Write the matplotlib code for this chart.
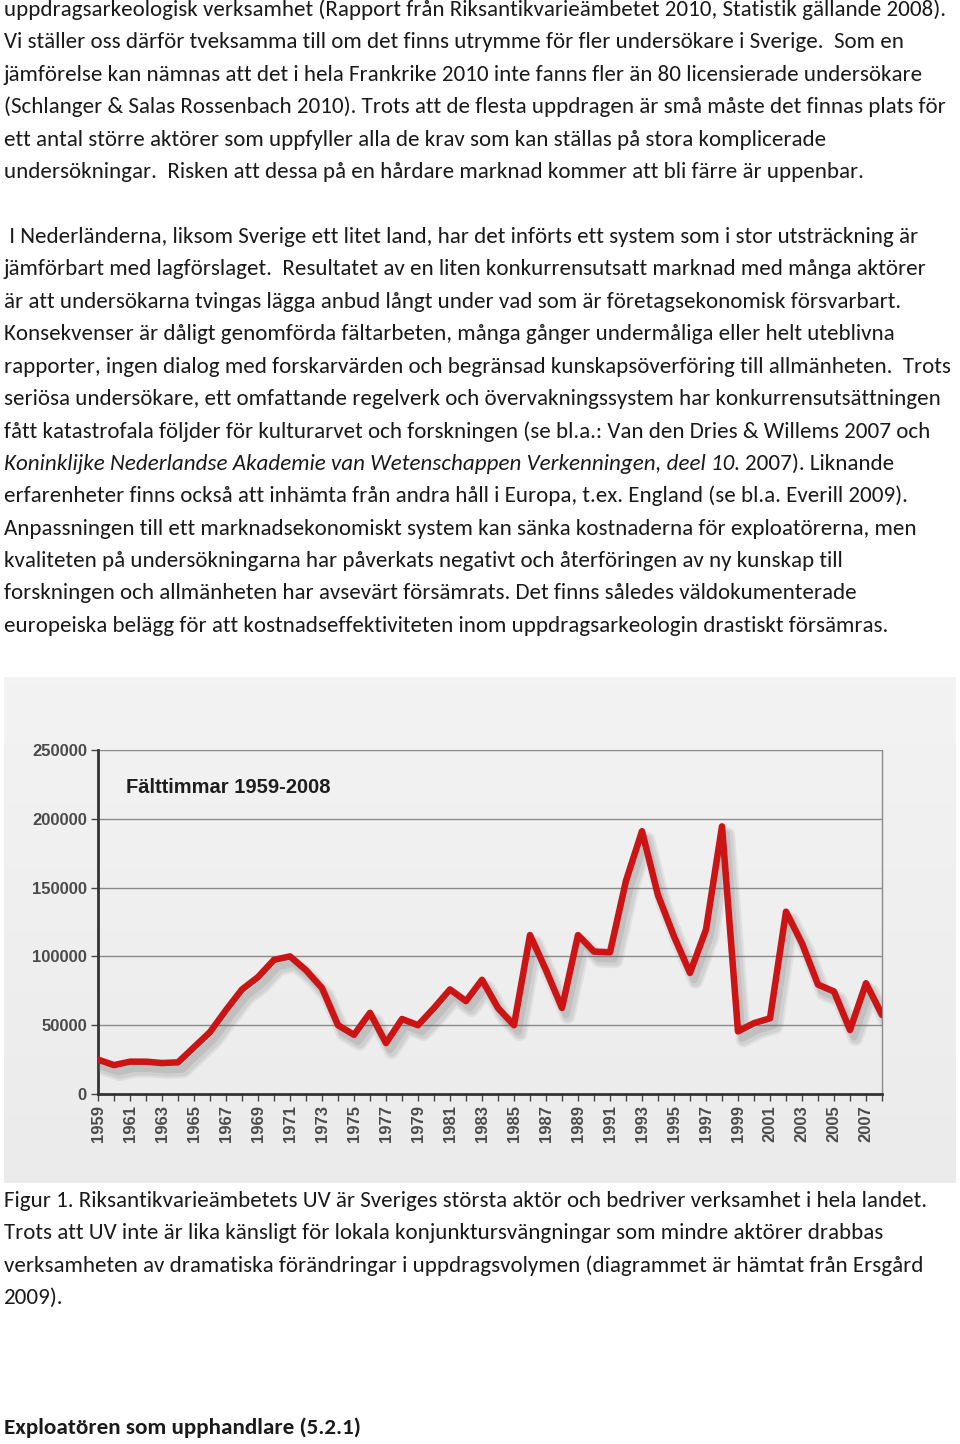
import numpy as np
import matplotlib
matplotlib.use("Agg")
import matplotlib.pyplot as plt
import matplotlib.patheffects as pe
from matplotlib import font_manager

# Field hours per year
years = list(range(1959, 2009))
hours = [25000, 21000, 23500, 23500, 22500, 23000, 34000, 45000, 61000, 76000,
         85000, 97500, 100000, 90000, 77000, 50000, 43000, 59000, 37000, 54500,
         50000, 62500, 76000, 67500, 83000, 62500, 50000, 115500, 90000, 62500,
         115500, 103500, 103000, 155000, 191000, 144500, 114500, 88000, 119500, 194500,
         45500, 51500, 55000, 132500, 109500, 79500, 74500, 46500, 80500, 57500]
year_labels = [str(y) if y % 2 == 1 else "" for y in years]
y_ticks = [0, 50000, 100000, 150000, 200000, 250000]
chart_title = "Fälttimmar 1959-2008"

para1 = [
    "uppdragsarkeologisk verksamhet (Rapport från Riksantikvarieämbetet 2010, Statistik gällande 2008).",
    "Vi ställer oss därför tveksamma till om det finns utrymme för fler undersökare i Sverige.  Som en",
    "jämförelse kan nämnas att det i hela Frankrike 2010 inte fanns fler än 80 licensierade undersökare",
    "(Schlanger & Salas Rossenbach 2010). Trots att de flesta uppdragen är små måste det finnas plats för",
    "ett antal större aktörer som uppfyller alla de krav som kan ställas på stora komplicerade",
    "undersökningar.  Risken att dessa på en hårdare marknad kommer att bli färre är uppenbar.",
]
para2 = [
    " I Nederländerna, liksom Sverige ett litet land, har det införts ett system som i stor utsträckning är",
    "jämförbart med lagförslaget.  Resultatet av en liten konkurrensutsatt marknad med många aktörer",
    "är att undersökarna tvingas lägga anbud långt under vad som är företagsekonomisk försvarbart.",
    "Konsekvenser är dåligt genomförda fältarbeten, många gånger undermåliga eller helt uteblivna",
    "rapporter, ingen dialog med forskarvärden och begränsad kunskapsöverföring till allmänheten.  Trots",
    "seriösa undersökare, ett omfattande regelverk och övervakningssystem har konkurrensutsättningen",
    "fått katastrofala följder för kulturarvet och forskningen (se bl.a.: Van den Dries & Willems 2007 och",
    None,
    "erfarenheter finns också att inhämta från andra håll i Europa, t.ex. England (se bl.a. Everill 2009).",
    "Anpassningen till ett marknadsekonomiskt system kan sänka kostnaderna för exploatörerna, men",
    "kvaliteten på undersökningarna har påverkats negativt och återföringen av ny kunskap till",
    "forskningen och allmänheten har avsevärt försämrats. Det finns således väldokumenterade",
    "europeiska belägg för att kostnadseffektiviteten inom uppdragsarkeologin drastiskt försämras.",
]
italic_part = "Koninklijke Nederlandse Akademie van Wetenschappen Verkenningen, deel 10"
after_italic = ". 2007). Liknande"
caption = [
    "Figur 1. Riksantikvarieämbetets UV är Sveriges största aktör och bedriver verksamhet i hela landet.",
    "Trots att UV inte är lika känsligt för lokala konjunktursvängningar som mindre aktörer drabbas",
    "verksamheten av dramatiska förändringar i uppdragsvolymen (diagrammet är hämtat från Ersgård",
    "2009).",
]
heading = "Exploatören som upphandlare (5.2.1)"

W, H = 960, 1444
fig = plt.figure(figsize=(W / 100, H / 100), dpi=100)
fig.patch.set_facecolor("white")

names = {f.name for f in font_manager.fontManager.ttflist}
body_font = "Carlito" if "Carlito" in names else "Lato"
txt_color = "#1a1a1a"

renderer = fig.canvas.get_renderer()

# fit body font size so the first line spans the same width as in the page
probe = fig.text(0, 0, para1[0], fontsize=14, family=body_font)
w14 = probe.get_window_extent(renderer).width
probe.remove()
fs = 14 * 946 / w14


def px(x, y):
    return x / W, 1 - y / H


def line(x, y, s, **kw):
    return fig.text(*px(x, y), s, fontsize=kw.pop("fontsize", fs), family=body_font,
                    color=txt_color, va="center", ha="left", **kw)


ys1 = 10 + 32.4 * np.arange(len(para1))
for y, s in zip(ys1, para1):
    line(4, y, s)

ys2 = 237 + 32.4 * np.arange(len(para2))
for y, s in zip(ys2, para2):
    if s is None:
        t = line(4, y, italic_part, style="italic")
        x_end = t.get_window_extent(renderer).x1
        line(x_end, y, after_italic)
    else:
        line(4, y, s)

ys3 = 1201 + 32.4 * np.arange(len(caption))
for y, s in zip(ys3, caption):
    line(4, y, s)

line(4, 1428, heading, weight="bold")

# scanned chart background
bg = fig.add_axes([4 / W, 1 - 1183 / H, 952 / W, 506 / H])
grad = np.linspace(0, 1, 100).reshape(-1, 1)
bg.imshow(grad, cmap=matplotlib.colors.LinearSegmentedColormap.from_list("g", ["#f3f3f3", "#ebebeb"]),
          aspect="auto", extent=[0, 1, 0, 1], origin="upper")
bg.axis("off")

ax = fig.add_axes([98 / W, 1 - 1094 / H, 784 / W, 344 / H])
ax.patch.set_alpha(0)
shadow = [pe.SimpleLineShadow(offset=(dx, -dy), shadow_color="#666666", alpha=a, rho=1, linewidth=lw)
          for dx, dy, a, lw in [(4, 6, 0.10, 11), (4, 6, 0.12, 8), (3, 5, 0.15, 5)]]
ax.plot(years, hours, color="#cc1414", lw=4.7, solid_joinstyle="round", solid_capstyle="round",
        zorder=3, path_effects=shadow + [pe.Normal()])
ax.set_xlim(1959, 2008)
ax.set_ylim(0, 250000)
ax.set_yticks(y_ticks)
ax.set_yticklabels([str(v) for v in y_ticks], fontsize=12, weight="bold", color="#4a4a4a",
                   family="Liberation Sans")
ax.set_xticks(years)
ax.set_xticklabels(year_labels, rotation=90, fontsize=12, weight="bold", color="#4a4a4a",
                   family="Liberation Sans")
ax.tick_params(axis="both", direction="out", length=5, width=1.0, color="#444444", pad=3)
for v in y_ticks[1:]:
    ax.axhline(v, color="#8a8a8a", lw=1, zorder=1)
ax.spines["left"].set_color("#333333")
ax.spines["left"].set_linewidth(2)
ax.spines["bottom"].set_color("#333333")
ax.spines["bottom"].set_linewidth(2)
ax.spines["right"].set_color("#8a8a8a")
ax.spines["right"].set_linewidth(1)
ax.spines["top"].set_visible(False)
ax.text(0.036, 0.892, chart_title, transform=ax.transAxes, fontsize=14.5, weight="bold",
        color="#1e1e1e", family="Liberation Sans", va="center", ha="left")

fig.savefig("out.png", dpi=100)
